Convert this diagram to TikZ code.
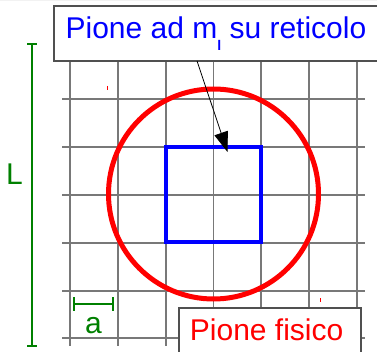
\documentclass[tikz,border=0pt]{standalone}
\usepackage{fontspec}
\setmainfont{Liberation Sans}
\usetikzlibrary{arrows.meta}
\definecolor{gridgray}{RGB}{120,120,120}
\definecolor{boxgray}{RGB}{80,80,80}
\definecolor{dimgreen}{RGB}{0,128,0}
\begin{document}
\begin{tikzpicture}[x=1pt,y=-1pt,
  gridline/.style={draw=gridgray,line width=1.2pt},
  labelbox/.style={draw=boxgray,line width=1.5pt,fill=white},
  bigtext/.style={font=\fontsize{30}{30}\selectfont,inner sep=0pt},
  dimline/.style={draw=dimgreen,line width=1.4pt},
  dimcap/.style={draw=dimgreen,line width=2pt}]
\useasboundingbox (0,0) rectangle (377,352);
\clip (0,0) rectangle (377,352);
\fill[white] (0,0) rectangle (377,352);
\fill[black!5] (0,0) rectangle (377,1.5);
% grid
\foreach \x in {70,118,166,213.5,261,309,357}
  \draw[gridline] (\x,55) -- (\x,346);
\foreach \y in {99,147,195,243,291,338}
  \draw[gridline] (62,\y) -- (365,\y);
% small red marks
\draw[red,line width=1pt] (107.5,86) -- (107.5,90);
\draw[red,line width=1pt] (320,298) -- (320,302);
% physical pion circle
\coordinate (cc) at (213.5,194);
\draw[red,line width=5pt] (cc) circle[radius=105];
% lattice pion square
\draw[blue,line width=4.5pt] (166,147) rectangle (261,242);
% L dimension
\coordinate (Ltop) at (32,44);
\coordinate (Lbot) at (32,346);
\draw[dimline] (Ltop) -- (Lbot);
\draw[dimcap] (27,44) -- (37,44);
\draw[dimcap] (27,346) -- (37,346);
\node[bigtext,text=dimgreen,anchor=base west] (L) at (6,185) {L};
% a dimension
\coordinate (aL) at (74,304);
\coordinate (aR) at (113,304);
\draw[dimline] (aL) -- (aR);
\draw[dimcap] (74,297) -- (74,311);
\draw[dimcap] (113,297) -- (113,311);
\node[bigtext,text=dimgreen,anchor=base] (a) at (93.5,333) {a};
% top label
\draw[labelbox] (54,6) rectangle (390,61);
\node[bigtext,text=blue,anchor=base west] (top) at (65.4,39)
  {Pione ad m\raisebox{-12pt}{\fontsize{14}{14}\selectfont\bfseries l} su reticolo};
\coordinate (arrstart) at (197,61);
\coordinate (arrend) at (227.5,152);
\draw[black,line width=0.8pt,-{Triangle[length=20pt,width=14pt]}] (arrstart) -- (arrend);
% bottom label
\draw[labelbox] (179,308) rectangle (361,365);
\node[bigtext,text=red,anchor=base west] (bot) at (189.7,340) {Pione fisico};
\end{tikzpicture}
\end{document}
